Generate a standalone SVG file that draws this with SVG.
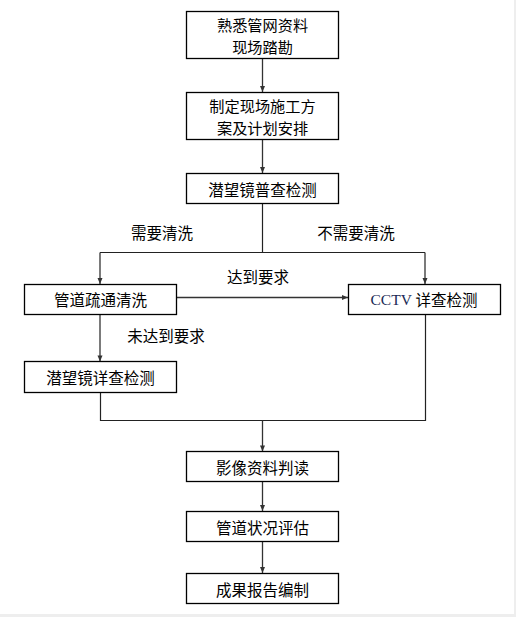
<svg xmlns="http://www.w3.org/2000/svg" width="516" height="617" viewBox="0 0 516 617">
<defs>
<style>
.box{fill:#fff;stroke:#000;stroke-width:1.3}
.t{font-family:"Noto Sans CJK SC","Liberation Sans",sans-serif;font-size:15.5px;fill:#000;text-anchor:middle;dominant-baseline:central}
.t2{font-size:15.2px}
.ln{fill:none;stroke:#222;stroke-width:1.2}
.ar{fill:none;stroke:#333;stroke-width:1.3;marker-end:url(#ah)}
</style>
<marker id="ah" markerWidth="8" markerHeight="8" refX="7" refY="4" orient="auto" markerUnits="userSpaceOnUse">
<path d="M1,1.5 L7,4 L1,6.5 Z" fill="#333"/>
</marker>
</defs>
<rect width="516" height="617" fill="#fff"/>
<rect x="514" y="0" width="2" height="617" fill="#eeeeee"/>
<rect x="0" y="614" width="516" height="3" fill="#eeeeee"/>
<g id="connectors">
<line class="ar" x1="262.5" y1="58" x2="262.5" y2="92"/>
<line class="ar" x1="262.5" y1="139" x2="262.5" y2="173"/>
<polyline class="ln" points="262.5,203 262.5,252.5"/>
<line class="ln" x1="100" y1="252.5" x2="425" y2="252.5"/>
<line class="ar" x1="100" y1="252.5" x2="100" y2="284"/>
<line class="ar" x1="425" y1="252.5" x2="425" y2="284"/>
<line class="ar" x1="176" y1="297.5" x2="348" y2="297.5"/>
<line class="ar" x1="100" y1="314" x2="100" y2="361.5"/>
<polyline class="ln" points="100.5,392 100.5,420.5 425.5,420.5 425.5,314"/>
<line class="ar" x1="262.5" y1="420.5" x2="262.5" y2="451.5"/>
<line class="ar" x1="262.5" y1="481" x2="262.5" y2="511"/>
<line class="ar" x1="262.5" y1="541" x2="262.5" y2="573"/>
<text class="t" x="162" y="231.5">需要清洗</text>
<text class="t" x="356" y="231.5">不需要清洗</text>
<text class="t" x="258" y="276">达到要求</text>
<text class="t" x="166" y="335">未达到要求</text>
</g>
<g id="n1"><rect class="box" x="186.5" y="11.5" width="152" height="47"/>
<text class="t t2" x="262.5" y="23.8">熟悉管网资料</text><text class="t t2" x="262.5" y="46">现场踏勘</text></g>
<g id="n2"><rect class="box" x="186.5" y="92.5" width="152" height="47"/>
<text class="t t2" x="262.5" y="104.8">制定现场施工方</text><text class="t t2" x="262.5" y="127">案及计划安排</text></g>
<g id="n3"><rect class="box" x="186.5" y="173.5" width="152" height="30"/>
<text class="t" x="262.5" y="189">潜望镜普查检测</text></g>
<g id="n4"><rect class="box" x="24.5" y="284.5" width="152" height="30"/>
<text class="t" x="100.5" y="299">管道疏通清洗</text></g>
<g id="n5"><rect class="box" x="348.5" y="284.5" width="152" height="30"/>
<text class="t" x="424" y="299"><tspan font-family="Liberation Serif,serif" fill="#1a2a55">CCTV </tspan>详查检测</text></g>
<g id="n6"><rect class="box" x="24.5" y="361.5" width="152" height="31"/>
<text class="t" x="100.5" y="377">潜望镜详查检测</text></g>
<g id="n7"><rect class="box" x="186.5" y="451.5" width="152" height="30"/>
<text class="t" x="262.5" y="467">影像资料判读</text></g>
<g id="n8"><rect class="box" x="186.5" y="511.5" width="152" height="30"/>
<text class="t" x="262.5" y="527">管道状况评估</text></g>
<g id="n9"><rect class="box" x="186.5" y="573.5" width="152" height="30"/>
<text class="t" x="262.5" y="589">成果报告编制</text></g>
</svg>
